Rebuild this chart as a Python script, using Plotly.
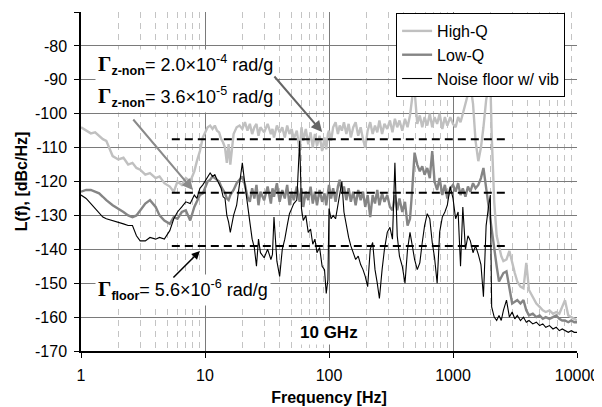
import numpy as np
import plotly.graph_objects as go

# ---------------- data ----------------
# frequency grid [Hz], by decade
FREQ_1_10 = [1, 1.1, 1.2, 1.3, 1.4, 1.5, 1.6, 1.8, 2.0, 2.2, 2.4, 2.6, 2.8, 3.0, 3.3, 3.6,
             4.0, 4.3, 4.7, 5.2, 5.6, 6.0, 6.5, 7.0, 7.6, 8.2, 8.6, 9.1, 9.6]
FREQ_10_100 = [10, 10.5, 11, 11.5, 12, 12.5, 13, 13.5, 14, 14.5, 15, 15.5, 16, 17, 18, 19, 20,
               21, 22, 23, 24, 25, 26, 27, 28, 30, 32, 34, 35, 36, 38, 40, 42, 44, 46, 48, 50,
               52, 55, 58, 60, 62, 65, 68, 71, 74, 77, 80, 84, 88, 92, 95, 98]
FREQ_100_1000 = [100, 104, 108, 113, 118, 122, 127, 132, 138, 144, 150, 157, 164, 172, 180,
                 188, 196, 205, 215, 225, 235, 245, 255, 268, 280, 295, 310, 325, 340, 355,
                 370, 390, 410, 430, 450, 470, 490, 515, 540, 565, 590, 620, 650, 680, 710,
                 745, 780, 820, 860, 900, 950]
FREQ_1000_10000 = [1000, 1050, 1100, 1150, 1200, 1260, 1320, 1380, 1450, 1520, 1600, 1680,
                   1760, 1850, 1940, 2000, 2050, 2150, 2250, 2350, 2450, 2550, 2700, 2850,
                   3000, 3150, 3300, 3500, 3700, 3900, 4100, 4400, 4700, 5000, 5300, 5600,
                   6000, 6400, 6800, 7200, 7600, 8000, 8500, 9000, 9500, 10000]

# High-Q L(f) [dBc/Hz]
HIGH_Q_1_10 = [-104, -105, -105.8, -105.5, -106.5, -107.5, -108, -112.5, -113.5, -113, -115,
               -114.5, -116, -116.5, -118, -117.5, -119, -118.5, -120.5, -121.5, -123, -120,
               -121, -119, -120, -117, -114, -111, -107]
HIGH_Q_10_100 = [-105.5, -104, -103.5, -104.5, -103.5, -105, -105.5, -107.5, -108.5, -110,
                 -114.5, -109, -115, -106, -104, -103.5, -104.5, -102.5, -105, -103,
                 -106, -104, -103, -106.5, -104, -105.5, -103, -106, -104.5, -107,
                 -103.5, -105.5, -104, -107, -103.5, -106, -104.5, -107.5, -105, -111,
                 -104, -108, -104.5, -109, -105.5, -110, -106, -109.5, -106.5, -111,
                 -107, -110.5, -106]
HIGH_Q_100_1000 = [-105, -108, -104, -102.5, -106, -103.5, -105, -102.5, -106, -103,
                   -107, -104, -102.5, -106.5, -104, -107.5, -110, -105, -102.5, -106,
                   -103.5, -105.5, -102, -106, -103, -104.5, -102, -105.5, -101.5, -104,
                   -102, -105, -101.5, -104, -100.5, -95, -93, -103, -100.5, -104,
                   -101, -103.5, -100, -104, -101, -103, -100, -104.5, -101, -103.5,
                   -101]
HIGH_Q_1000_10000 = [-103, -104, -101, -102.5, -100, -97, -94, -91.5, -97, -108,
                     -114, -110, -104, -96, -92, -90, -106, -126, -136, -139,
                     -142, -143.5, -143, -140.5, -144, -147, -149.5, -151, -151.5, -144,
                     -152, -154, -156, -157, -158, -158.5, -158, -159, -158.5, -159,
                     -157, -155, -159.5, -160, -160.5, -161]

# Low-Q L(f) [dBc/Hz]
LOW_Q_1_10 = [-123, -122.5, -122.5, -123, -123.5, -124.5, -125.5, -127, -128, -129, -130,
              -130.5, -130, -128.5, -126.5, -125.5, -127.5, -130, -131.5, -132.5, -130.5,
              -131, -129, -128.5, -131.5, -127.5, -126, -124, -123.5]
LOW_Q_10_100 = [-122, -120, -119.5, -118.5, -119, -119.5, -120, -121.5, -122.5, -123.5,
                -125, -125.5, -124, -122.5, -120.5, -119.5, -118.5, -121, -124.5, -126,
                -122, -125, -121, -127, -123, -125.5, -121.5, -126.5, -122, -124.5,
                -120.5, -126, -122.5, -125, -121, -127, -123, -125.5, -121.5, -126,
                -122, -127.5, -123, -125.5, -121.5, -126.5, -123, -127, -122.5, -126,
                -123.5, -127, -124]
LOW_Q_100_1000 = [-121, -125, -122, -126, -121.5, -119.5, -123.5, -121.5, -125.5, -122,
                  -126, -123, -127, -122.5, -125.5, -123, -127.5, -124, -130.5, -124,
                  -126.5, -122.5, -127, -123.5, -126, -124, -127.5, -128.5, -124, -128.5,
                  -125, -129, -126, -133, -131, -122, -111.5, -115, -117, -115.5,
                  -118, -116, -119, -111, -120, -122.5, -119, -124, -121, -125,
                  -122]
LOW_Q_1000_10000 = [-121, -123, -120.5, -124, -122, -124.5, -121.5, -123, -120.5, -122,
                    -121, -119, -116, -122, -128, -132, -134, -139, -145, -149.5,
                    -148, -147, -146.5, -151, -156, -155.5, -155, -156, -155, -158,
                    -159.5, -159, -160, -159.5, -160.5, -160, -160.5, -160, -159.5, -160.5,
                    -161, -161, -161.5, -161, -161.5, -161.5]

# Noise floor w/ vib L(f) [dBc/Hz]
FLOOR_1_10 = [-124, -125, -126.5, -128, -129.5, -130.5, -131, -131.5, -132, -132.5, -133,
              -133, -136, -137.5, -137.5, -136.5, -137, -136.5, -137, -134.5, -131, -129,
              -127.5, -126, -126.5, -124, -125, -122, -121]
FLOOR_10_100 = [-120, -119, -117.5, -118.5, -118, -119.5, -121, -122, -124.5, -125,
                -130, -132, -135, -130, -127, -120, -114.5, -121, -126, -132,
                -137, -139.5, -145, -137, -141, -142.5, -140, -143, -141.5, -130.5,
                -143.5, -148, -140, -137, -133, -129.5, -128, -126.5, -125.5, -108,
                -128, -131.5, -130, -135, -134, -138.5, -137, -141, -139.5, -145,
                -146, -153, -149]
FLOOR_100_1000 = [-128, -131, -130, -131, -127, -125, -120, -129, -133.5, -136.5,
                  -139, -141, -143, -142, -144.5, -146, -148, -151, -140, -138,
                  -146, -150, -154.5, -146, -140, -135, -133.5, -137, -114.5, -136,
                  -142, -145, -150, -140, -135, -139, -143, -146, -144, -138,
                  -133, -129.5, -131, -138, -142.5, -150, -135, -130.5, -129, -127,
                  -121.5]
FLOOR_1000_10000 = [-125, -131, -129, -145, -127.5, -140, -136, -137.5, -141, -139,
                    -141.5, -144.5, -154, -133, -127, -124, -157, -160, -161, -159.5,
                    -161, -158, -155, -160, -158.5, -160.5, -159.5, -161, -160, -161.5,
                    -161, -162, -161.5, -162.5, -162, -163, -162.5, -163.5, -163, -164,
                    -163.5, -164, -164.5, -164, -164.5, -164.5]

# dashed reference levels
REF_LEVELS = [-107.5, -123.3, -139.0]
REF_SPAN = [5.4, 2750]

SERIES_NAMES = ["High-Q", "Low-Q", "Noise floor w/ vib"]

Y_TICKS = [-170, -160, -150, -140, -130, -120, -110, -100, -90, -80, -70]
Y_TICK_TEXT = ["-170", "-160", "-150", "-140", "-130", "-120", "-110", "-100", "-90", "-80", "-70"]
X_TICKS = [1, 10, 100, 1000, 10000]
X_TICK_TEXT = ["1", "10", "100", "1000", "10000"]

# ---------------- build ----------------
freq = FREQ_1_10 + FREQ_10_100 + FREQ_100_1000 + FREQ_1000_10000
high_q = HIGH_Q_1_10 + HIGH_Q_10_100 + HIGH_Q_100_1000 + HIGH_Q_1000_10000
low_q = LOW_Q_1_10 + LOW_Q_10_100 + LOW_Q_100_1000 + LOW_Q_1000_10000
floor_ = FLOOR_1_10 + FLOOR_10_100 + FLOOR_100_1000 + FLOOR_1000_10000

FONT = "Liberation Sans, Arial, sans-serif"

fig = go.Figure()
styles = [("#c0c0c0", 2.4), ("#858585", 2.4), ("#000000", 1.1)]
for name, vals, (col, w) in zip(SERIES_NAMES, [high_q, low_q, floor_], styles):
    fig.add_trace(go.Scatter(x=freq, y=vals, mode="lines", name=name,
                             line=dict(color=col, width=w)))

for lvl in REF_LEVELS:
    fig.add_trace(go.Scatter(x=REF_SPAN, y=[lvl, lvl], mode="lines", showlegend=False,
                             hoverinfo="skip",
                             line=dict(color="black", width=2, dash="8px,5px")))

minor_vals = [m * d for d in (1, 10, 100, 1000) for m in range(2, 10)]

# the page body adds an 8 px margin, so the figure is 8 px smaller each way
fig.update_layout(
    width=594, height=399,
    margin=dict(l=73, r=25, t=4, b=56),
    paper_bgcolor="white", plot_bgcolor="white",
    font=dict(family=FONT, color="black", size=16),
    showlegend=True,
    legend=dict(x=0.976, y=0.997, xanchor="right", yanchor="top",
                bgcolor="white", bordercolor="black", borderwidth=1,
                font=dict(size=16, family=FONT), tracegroupgap=0,
                itemwidth=30),
    xaxis=dict(type="log", range=[0, 4], tickmode="array", tickvals=X_TICKS,
               ticktext=X_TICK_TEXT, ticks="outside", ticklen=5, tickcolor="black",
               tickfont=dict(size=16), ticklabelstandoff=4, automargin=False,
               showline=True, linecolor="black", linewidth=1.5,
               showgrid=True, gridcolor="#7a7a7a", gridwidth=1, zeroline=False,
               minor=dict(tickmode="array", tickvals=minor_vals, ticks="",
                          showgrid=True, gridcolor="#c4c4c4", gridwidth=1,
                          griddash="6px,5px"),
               title=dict(text="<b>Frequency [Hz]</b>", font=dict(size=16), standoff=9)),
    yaxis=dict(range=[-170, -70], tickmode="array", tickvals=Y_TICKS, ticktext=Y_TICK_TEXT,
               ticks="outside", ticklen=5, tickcolor="black", tickfont=dict(size=16),
               ticklabelstandoff=4, automargin=False,
               showline=True, linecolor="black", linewidth=1.5,
               showgrid=True, gridcolor="#7a7a7a", gridwidth=1, zeroline=False,
               title=dict(text="<b>L(f), [dBc/Hz]</b>", font=dict(size=16), standoff=3)),
)

GAMMA = '<span style="font-family:Liberation Serif, serif;font-size:21px"><b>Γ</b></span>'
line1 = GAMMA + '<b><sub>z-non</sub></b>= 2.0×10<sup>-4</sup> rad/g'
line2 = GAMMA + '<b><sub>z-non</sub></b>= 3.6×10<sup>-5</sup> rad/g'
line3 = GAMMA + '<b><sub>floor</sub></b>= 5.6×10<sup>-6</sup> rad/g'

fig.add_annotation(xref="paper", yref="paper", x=0.028, y=0.7965, xanchor="left",
                   yanchor="middle", align="left", showarrow=False,
                   text='<span style="font-size:18px">' + line1 + '</span><br>'
                        '<span style="font-size:18px">' + line2 + '</span>',
                   font=dict(size=24.5, family=FONT, color="black"),
                   bgcolor="white", borderpad=2)
fig.add_annotation(xref="paper", yref="paper", x=0.028, y=0.18, xanchor="left",
                   yanchor="middle", align="left", showarrow=False,
                   text=line3, font=dict(size=18, family=FONT, color="black"),
                   bgcolor="white", borderpad=2)
fig.add_annotation(x=2, y=-164.6, xref="x", yref="y", showarrow=False,
                   text="<b>10 GHz</b>", font=dict(size=17, family=FONT, color="black"),
                   bgcolor="white", borderpad=2)

# arrows (head position in log10(f) / dB, tail offset in pixels)
fig.add_annotation(x=np.log10(88), y=-105.4, xref="x", yref="y", text="", showarrow=True,
                   ax=-49, ay=-57, arrowhead=2, arrowsize=1.1, arrowwidth=2,
                   arrowcolor="#666666")
fig.add_annotation(x=np.log10(8.0), y=-122.5, xref="x", yref="y", text="", showarrow=True,
                   ax=-61, ay=-72, arrowhead=2, arrowsize=1.1, arrowwidth=2,
                   arrowcolor="#8a8a8a")
fig.add_annotation(x=np.log10(9.1), y=-140.5, xref="x", yref="y", text="", showarrow=True,
                   ax=-28, ay=28, arrowhead=2, arrowsize=1.1, arrowwidth=1.5,
                   arrowcolor="black")

fig.write_html("out.html")
